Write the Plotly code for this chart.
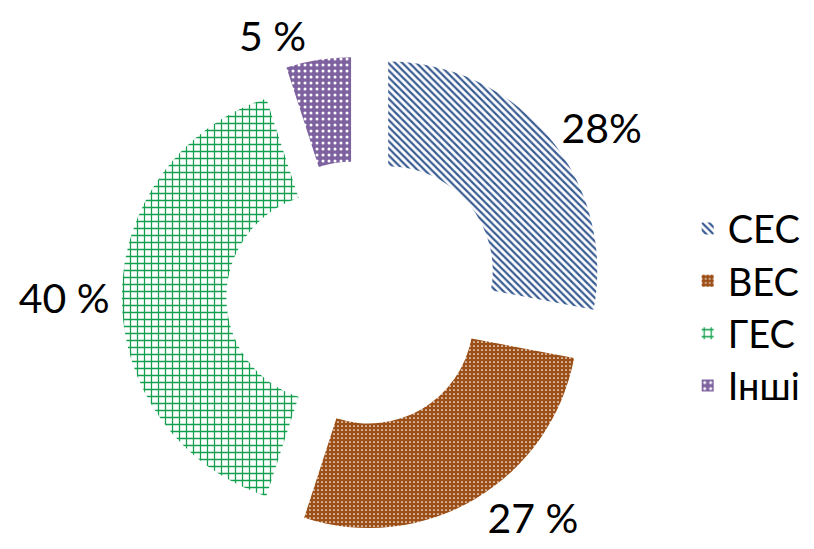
import plotly.graph_objects as go

categories = ["СЕС", "ВЕС", "ГЕС", "Інші"]
shares = [28, 27, 40, 5]
label_texts = ["28%", "27 %", "40 %", "5 %"]

fg_colors = ["#3A5C92", "#FFFFFF", "#12A04E", "#FFFFFF"]
bg_colors = ["#FFFFFF", "#9C4F16", "#FFFFFF", "#7E62A0"]
shapes = ["\\", ".", "+", "."]
sizes = [5, 4, 7, 6]
solidities = [0.45, 0.15, 0.33, 0.2]
pulls = [0.2, 0.12, 0.12, 0.15]

fig = go.Figure(go.Pie(
    labels=categories,
    values=shares,
    text=label_texts,
    textinfo="text",
    textposition="outside",
    hole=0.5,
    sort=False,
    direction="clockwise",
    rotation=0,
    pull=pulls,
    marker=dict(
        colors=bg_colors,
        line=dict(width=0),
        pattern=dict(
            shape=shapes,
            fgcolor=fg_colors,
            bgcolor=bg_colors,
            size=sizes,
            solidity=solidities,
            fillmode="replace",
        ),
    ),
    textfont=dict(family="Lato", size=41, color="#000000"),
    domain=dict(x=[0.105, 0.75], y=[0.016, 0.93]),
    showlegend=True,
))

fig.update_layout(
    width=814,
    height=549,
    margin=dict(l=0, r=0, t=0, b=0, autoexpand=False),
    paper_bgcolor="#FFFFFF",
    plot_bgcolor="#FFFFFF",
    showlegend=True,
    legend=dict(
        x=0.835, y=0.455, xanchor="left", yanchor="middle",
        font=dict(family="Lato", size=38, color="#000000"),
        bgcolor="rgba(0,0,0,0)",
    ),
)

fig.write_html("out.html")
